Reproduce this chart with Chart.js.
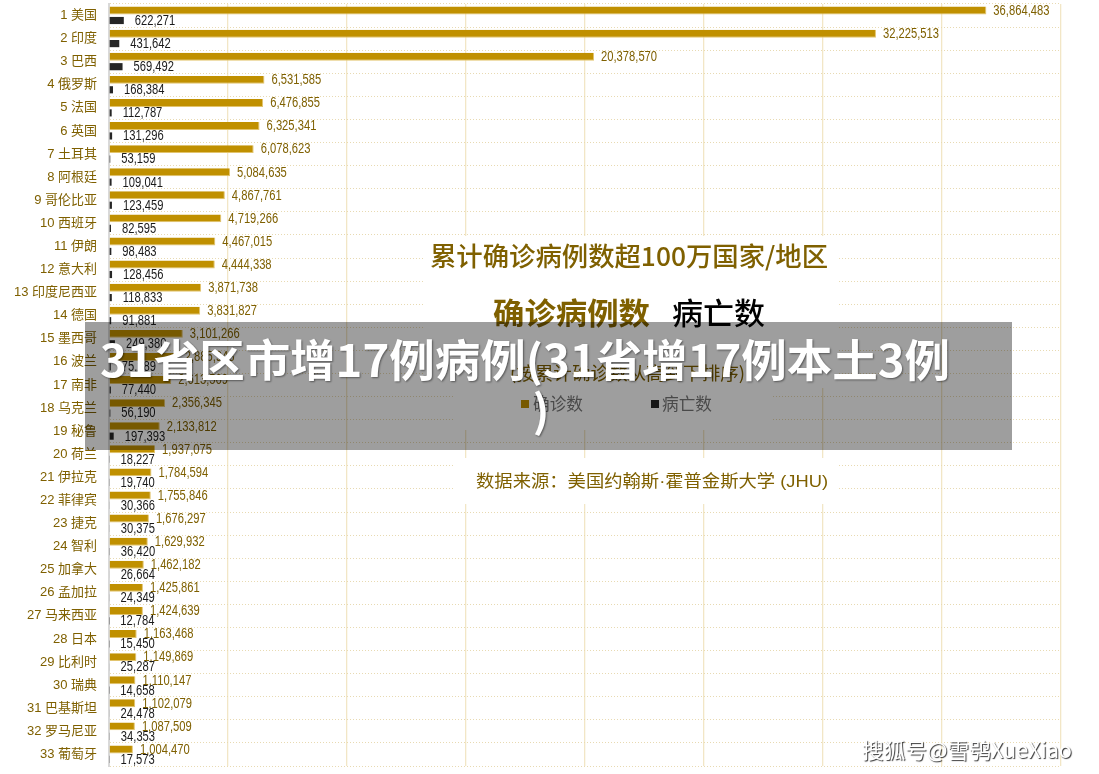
<!DOCTYPE html>
<html>
<head>
<meta charset="utf-8">
<script src="https://cdn.jsdelivr.net/npm/chart.js@4.4.0/dist/chart.umd.min.js"></script>
<style>
  body { margin: 0; background: #fff; }
  #wrap { width: 1099px; height: 774px; }
</style>
</head>
<body>
<div id="wrap"><canvas id="chart"></canvas></div>
<script>
// 数据（约翰斯·霍普金斯大学）
const countries = ["1 美国", "2 印度", "3 巴西", "4 俄罗斯", "5 法国", "6 英国", "7 土耳其", "8 阿根廷",
  "9 哥伦比亚", "10 西班牙", "11 伊朗", "12 意大利", "13 印度尼西亚", "14 德国", "15 墨西哥", "16 波兰",
  "17 南非", "18 乌克兰", "19 秘鲁", "20 荷兰", "21 伊拉克", "22 菲律宾", "23 捷克", "24 智利",
  "25 加拿大", "26 孟加拉", "27 马来西亚", "28 日本", "29 比利时", "30 瑞典", "31 巴基斯坦",
  "32 罗马尼亚", "33 葡萄牙"];
const confirmed = [36864483, 32225513, 20378570, 6531585, 6476855, 6325341, 6078623, 5084635,
  4867761, 4719266, 4467015, 4444338, 3871738, 3831827, 3101266, 2885948,
  2613569, 2356345, 2133812, 1937075, 1784594, 1755846, 1676297, 1629932,
  1462182, 1425861, 1424639, 1163468, 1149869, 1110147, 1102079, 1087509, 1004470];
const deaths = [622271, 431642, 569492, 168384, 112787, 131296, 53159, 109041,
  123459, 82595, 98483, 128456, 118833, 91881, 249380, 75289,
  77440, 56190, 197393, 18227, 19740, 30366, 30375, 36420,
  26664, 24349, 12784, 15450, 25287, 14658, 24478, 34353, 17573];
const xMax = 40000000;
const xStep = 5000000;

const GOLD = "#C09000";
const GOLD_TEXT = "#7F6000";
const DARK = "#262626";
const CJK = '"Noto Sans CJK SC", sans-serif';

// 横向压缩文字，让宽度贴合
function fitText(ctx, txt, x, y, width) {
  const w = ctx.measureText(txt).width;
  ctx.save();
  ctx.translate(x, y);
  ctx.scale(width / w, 1);
  ctx.fillText(txt, 0, 0);
  ctx.restore();
}
function squeeze(ctx, txt, x, y, sx) {
  ctx.save();
  ctx.translate(x, y);
  ctx.scale(sx, 1);
  ctx.fillText(txt, 0, 0);
  ctx.restore();
}

const decor = {
  id: "decor",
  beforeDatasetsDraw(chart) {
    const c = chart.ctx;
    c.save();
    c.fillStyle = "#fff";
    c.fillRect(423, 236, 415, 152);
    c.fillRect(453, 388, 320, 42);
    c.fillRect(453, 458, 385, 46);
    c.restore();
  },
  afterDatasetsDraw(chart) {
    const c = chart.ctx;
    c.save();
    c.textBaseline = "middle";
    c.textAlign = "left";
    c.font = '14px "Liberation Sans", Arial, sans-serif';
    chart.data.datasets.forEach((ds, di) => {
      const meta = chart.getDatasetMeta(di);
      meta.data.forEach((bar, i) => {
        c.fillStyle = di === 0 ? GOLD_TEXT : "#1a1a1a";
        const gap = di === 0 ? 7 : 11;
        squeeze(c, ds.data[i].toLocaleString("en-US"), bar.x + gap, bar.y + 0.5, 0.8);
      });
    });

    // 标题框
    c.fillStyle = GOLD_TEXT;
    c.font = "500 26px " + CJK;
    fitText(c, "累计确诊病例数超100万国家/地区", 430, 256, 398);
    c.font = "bold 30px " + CJK;
    fitText(c, "确诊病例数", 493, 313, 157);
    c.fillStyle = "#000";
    c.font = "500 30px " + CJK;
    fitText(c, "病亡数", 672, 313, 93);
    c.fillStyle = GOLD_TEXT;
    c.font = "18px " + CJK;
    fitText(c, "(按累计确诊数从高到下排序)", 510, 373, 235);
    c.fillStyle = GOLD;
    c.fillRect(521, 400, 8, 8);
    c.fillStyle = DARK;
    c.fillRect(651, 400, 8, 8);
    c.fillStyle = "#777";
    c.font = "17px " + CJK;
    fitText(c, "确诊数", 533, 404, 50);
    fitText(c, "病亡数", 662, 404, 50);
    c.fillStyle = GOLD_TEXT;
    c.font = '17px "Liberation Sans", "Noto Sans CJK SC", sans-serif';
    fitText(c, "数据来源：美国约翰斯·霍普金斯大学 (JHU)", 476, 482, 352);
    c.restore();
  },
  afterDraw(chart) {
    const c = chart.ctx;
    c.save();
    // 灰色横幅
    c.fillStyle = "rgba(0,0,0,0.38)";
    c.fillRect(85, 322, 927, 128);
    c.fillStyle = "#fff";
    c.textBaseline = "middle";
    c.shadowColor = "rgba(0,0,0,0.45)";
    c.shadowBlur = 2;
    c.shadowOffsetX = 1;
    c.shadowOffsetY = 1;
    c.font = "bold 44px " + CJK;
    c.textAlign = "left";
    fitText(c, "31省区市增17例病例(31省增17例本土3例", 100, 360, 850);
    c.textAlign = "center";
    c.fillText(")", 541, 410);
    // 水印
    c.textAlign = "left";
    c.font = "21px " + CJK;
    c.shadowColor = "rgba(0,0,0,0.8)";
    c.shadowBlur = 1;
    fitText(c, "搜狐号@雪鸮XueXiao", 862, 750, 210);
    c.restore();
  }
};

new Chart(document.getElementById("chart"), {
  type: "bar",
  data: {
    labels: countries,
    datasets: [
      {
        label: "确诊数",
        data: confirmed,
        backgroundColor: GOLD,
        borderColor: "#E2C46E",
        borderWidth: { top: 0, right: 1, bottom: 1, left: 0 },
        borderSkipped: false,
        categoryPercentage: 0.86,
        barPercentage: 0.8
      },
      {
        label: "病亡数",
        data: deaths,
        backgroundColor: DARK,
        categoryPercentage: 0.86,
        barPercentage: 0.72
      }
    ]
  },
  options: {
    indexAxis: "y",
    responsive: true,
    maintainAspectRatio: false,
    animation: false,
    layout: { padding: { top: 4, right: 38, bottom: 8, left: 0 } },
    plugins: {
      legend: { display: false },
      tooltip: { enabled: false }
    },
    scales: {
      x: {
        min: 0,
        max: xMax,
        afterFit(scale) { scale.height = 0; },
        ticks: { display: false, stepSize: xStep },
        grid: { color: "#F2E6C6", lineWidth: 1.3, drawTicks: false },
        border: { display: false }
      },
      y: {
        afterFit(scale) {
          scale.width = 109;
          scale.paddingTop = 0;
          scale.paddingBottom = 0;
        },
        ticks: {
          padding: 12,
          color: GOLD_TEXT,
          font: { size: 13, family: '"Liberation Sans", "Noto Sans CJK SC", sans-serif' }
        },
        grid: { color: "#E8DAB2", drawTicks: false },
        border: { color: "#D9D9D9", width: 2, dash: [1, 2] }
      }
    }
  },
  plugins: [decor]
});
</script>
</body>
</html>
